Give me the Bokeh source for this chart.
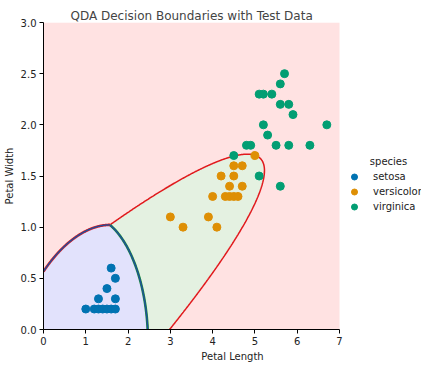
import numpy as np
import contourpy
from bokeh.plotting import figure
from bokeh.models import Legend, LegendItem, FixedTicker, NumeralTickFormatter, Label
from bokeh.embed import file_html
from bokeh.resources import INLINE

species = ["setosa", "versicolor", "virginica"]
point_colors = ["#0173b2", "#de8f05", "#029e73"]
region_colors = [(226, 226, 252), (228, 241, 225), (255, 226, 226)]
line_colors = ["#1f4e9c", "#1a8a3a", "#e0191c"]

setosa_pl = [1.0, 1.2, 1.3, 1.4, 1.5, 1.6, 1.7, 1.3, 1.7, 1.5, 1.7, 1.6]
setosa_pw = [0.2, 0.2, 0.2, 0.2, 0.2, 0.2, 0.2, 0.3, 0.3, 0.4, 0.5, 0.6]
versicolor_pl = [3.0, 3.3, 3.9, 4.1, 4.0, 4.3, 4.4, 4.5, 4.6, 4.4, 4.7, 4.2, 4.5, 4.5, 4.7, 5.0]
versicolor_pw = [1.1, 1.0, 1.1, 1.0, 1.3, 1.3, 1.3, 1.3, 1.3, 1.4, 1.4, 1.5, 1.5, 1.6, 1.6, 1.7]
virginica_pl = [5.7, 5.6, 5.1, 5.2, 5.4, 5.6, 5.8, 5.9, 5.2, 6.7, 5.3, 4.8, 4.9, 5.5, 5.8, 6.3, 4.5, 5.1, 5.6]
virginica_pw = [2.5, 2.4, 2.3, 2.3, 2.3, 2.2, 2.2, 2.1, 2.0, 2.0, 1.9, 1.8, 1.8, 1.8, 1.8, 1.8, 1.7, 1.5, 1.4]

# QDA model parameters (class means and covariances in petal length / petal width)
qda_means = [[1.47, 0.246], [4.26, 1.326], [5.552, 2.026]]
qda_covs = [[[0.0302, 0.0061], [0.0061, 0.0111]],
            [[0.2208, 0.0731], [0.0731, 0.0391]],
            [[0.3046, 0.0488], [0.0488, 0.0754]]]
qda_priors = [1 / 3, 1 / 3, 1 / 3]

x_ticks = [0, 1, 2, 3, 4, 5, 6, 7]
y_ticks = [0.0, 0.5, 1.0, 1.5, 2.0, 2.5, 3.0]
x_lo, x_hi = 0, 7
y_lo, y_hi = 0, 3

# decision function on a grid
nx, ny = 701, 301
gx = np.linspace(x_lo, x_hi, nx)
gy = np.linspace(y_lo, y_hi, ny)
X, Y = np.meshgrid(gx, gy)
G = []
for m, c, pr in zip(qda_means, qda_covs, qda_priors):
    c = np.array(c)
    inv = np.linalg.inv(c)
    dx = X - m[0]
    dy = Y - m[1]
    maha = inv[0, 0] * dx * dx + 2 * inv[0, 1] * dx * dy + inv[1, 1] * dy * dy
    G.append(-0.5 * np.log(np.linalg.det(c)) - 0.5 * maha + np.log(pr))
G = np.array(G)
pred = np.argmax(G, axis=0)

img = np.empty((ny, nx), dtype=np.uint32)
view = img.view(dtype=np.uint8).reshape((ny, nx, 4))
for k, (r, g, b) in enumerate(region_colors):
    sel = pred == k
    view[sel, 0] = r
    view[sel, 1] = g
    view[sel, 2] = b
    view[sel, 3] = 255

# the frame is widened to the right so the legend can sit beside the data area
plot_w, legend_w = 296, 82
p = figure(frame_width=plot_w + legend_w, frame_height=307,
           x_range=(x_lo, x_hi * (plot_w + legend_w) / plot_w), y_range=(y_lo, y_hi),
           output_backend="svg", toolbar_location=None,
           min_border_left=40, min_border_right=0, min_border_top=22, min_border_bottom=0,
           title="QDA Decision Boundaries with Test Data")
p.image_rgba(image=[img], x=x_lo, y=y_lo, dw=x_hi - x_lo, dh=y_hi - y_lo)

pairs = [(0, 2, [line_colors[2], line_colors[0]]),
         (1, 2, [line_colors[2]]),
         (0, 1, [line_colors[1], line_colors[0]])]
for i, j, cols in pairs:
    k = 3 - i - j
    z = G[i] - G[j]
    z = np.where(G[k] > np.maximum(G[i], G[j]), np.nan, z)
    gen = contourpy.contour_generator(X, Y, np.ma.masked_invalid(z))
    segs = gen.lines(0.0)
    xs = [s[:, 0].tolist() for s in segs]
    ys = [s[:, 1].tolist() for s in segs]
    widths = [2.6, 1.4] if len(cols) == 2 else [1.5]
    for col, w in zip(cols, widths):
        p.multi_line(xs, ys, line_color=col, line_width=w)

items = []
for name, col, px, py in zip(species, point_colors,
                             [setosa_pl, versicolor_pl, virginica_pl],
                             [setosa_pw, versicolor_pw, virginica_pw]):
    r = p.scatter(px, py, size=8, fill_color=col, line_color=col)
    items.append(LegendItem(label=name, renderers=[r]))

legend = Legend(items=items, location=(plot_w + 5, 115),
                border_line_color=None, background_fill_alpha=0,
                margin=0, padding=0, label_standoff=9, spacing=0,
                glyph_height=15, glyph_width=20, label_height=15,
                label_text_font="DejaVu Sans", label_text_font_size="10px",
                label_text_color="#222222")
p.add_layout(legend)
p.add_layout(Label(x=plot_w + 49, y=168, x_units="screen", y_units="screen", text="species",
                   text_align="center", text_baseline="middle",
                   text_font="DejaVu Sans", text_font_size="10px", text_color="#222222"))

p.title.text_font = "DejaVu Sans"
p.title.text_font_size = "12px"
p.title.text_font_style = "normal"
p.title.align = "left"
p.title.offset = 27
p.title.standoff = 0

p.xgrid.visible = False
p.ygrid.visible = False
p.outline_line_color = None
for ax in (p.xaxis, p.yaxis):
    ax.axis_line_color = "black"
    ax.major_tick_line_color = "black"
    ax.major_tick_out = 4
    ax.major_tick_in = 0
    ax.minor_tick_line_color = None
    ax.major_label_standoff = 3
    ax.major_label_text_font = "DejaVu Sans"
    ax.major_label_text_font_size = "10px"
    ax.major_label_text_color = "#222222"
    ax.axis_label_text_font = "DejaVu Sans"
    ax.axis_label_text_font_size = "10px"
    ax.axis_label_text_font_style = "normal"
    ax.axis_label_text_color = "#222222"
    ax.axis_label_standoff = 3
p.xaxis.bounds = (x_lo, x_hi)
p.xaxis.ticker = FixedTicker(ticks=x_ticks)
p.yaxis.ticker = FixedTicker(ticks=y_ticks)
p.yaxis.formatter = NumeralTickFormatter(format="0.0")
p.xaxis.axis_label = "Petal Length"
p.yaxis.axis_label = "Petal Width"

open("out.html", "w").write(file_html(p, INLINE))
